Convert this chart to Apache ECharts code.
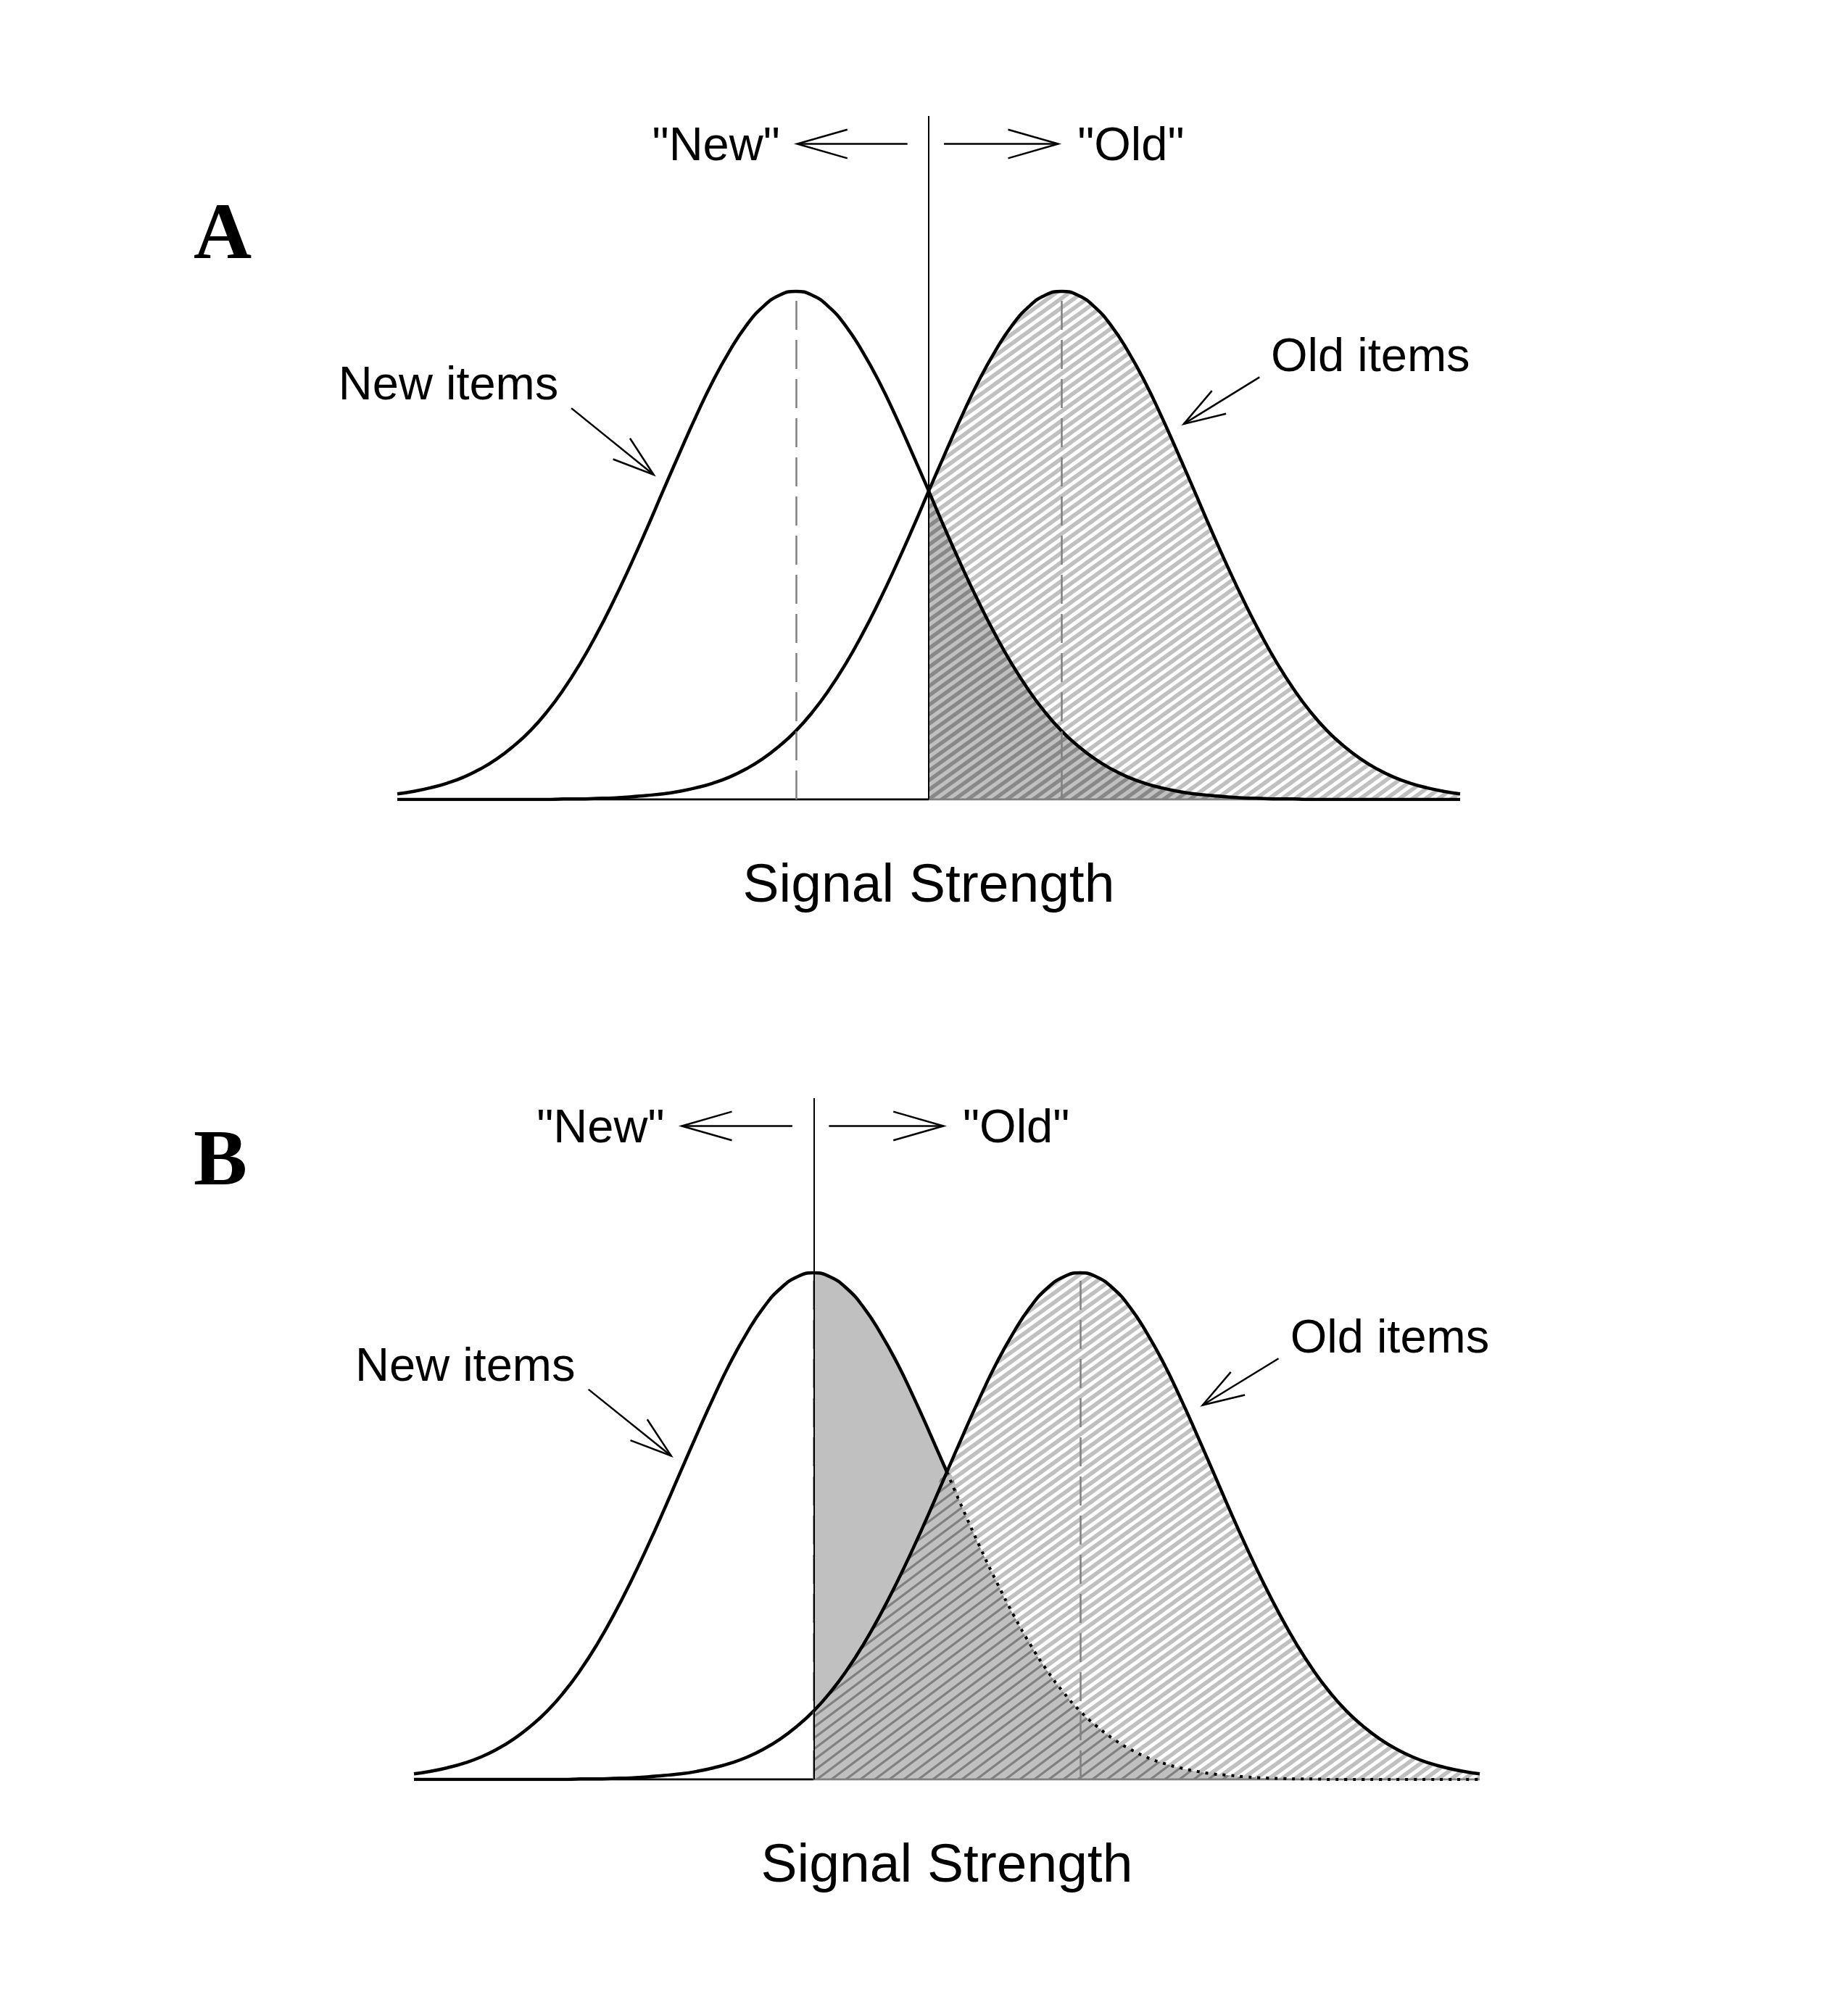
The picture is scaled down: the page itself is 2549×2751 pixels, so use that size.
<!DOCTYPE html>
<html>
<head>
<meta charset="utf-8">
<script src="https://cdn.jsdelivr.net/npm/echarts@6/dist/echarts.min.js"></script>
<style>
  html, body { margin: 0; padding: 0; background: #fff; }
  #eChart { width: 2549px; height: 2751px; }
</style>
</head>
<body>
<div id="eChart"></div>
<script>
// signal strength (in SD units of the new-item distribution)
var xs = [-3, -2.875, -2.75, -2.625, -2.5, -2.375, -2.25, -2.125,
          -2, -1.875, -1.75, -1.625, -1.5, -1.375, -1.25, -1.125,
          -1, -0.875, -0.75, -0.625, -0.5, -0.375, -0.25, -0.125,
          0, 0.125, 0.25, 0.375, 0.5, 0.625, 0.75, 0.875,
          1, 1.125, 1.25, 1.375, 1.5, 1.625, 1.75, 1.875,
          2, 2.125, 2.25, 2.375, 2.5, 2.625, 2.75, 2.875,
          3, 3.125, 3.25, 3.375, 3.5, 3.625, 3.75, 3.875,
          4, 4.125, 4.25, 4.375, 4.5, 4.625, 4.75, 4.875, 5];

// relative height of each distribution (peak = 1)
var newItems = [0.011, 0.016, 0.023, 0.032, 0.044, 0.060, 0.080, 0.105,
                0.135, 0.172, 0.216, 0.267, 0.325, 0.389, 0.458, 0.531,
                0.607, 0.682, 0.755, 0.823, 0.882, 0.932, 0.969, 0.992,
                1.000, 0.992, 0.969, 0.932, 0.882, 0.823, 0.755, 0.682,
                0.607, 0.531, 0.458, 0.389, 0.325, 0.267, 0.216, 0.172,
                0.135, 0.105, 0.080, 0.060, 0.044, 0.032, 0.023, 0.016,
                0.011, 0.008, 0.005, 0.003, 0.002, 0.001, 0.001, 0,
                0, 0, 0, 0, 0, 0, 0, 0, 0];
var oldItems = [0, 0, 0, 0, 0, 0, 0, 0,
                0, 0, 0.001, 0.001, 0.002, 0.003, 0.005, 0.008,
                0.011, 0.016, 0.023, 0.032, 0.044, 0.060, 0.080, 0.105,
                0.135, 0.172, 0.216, 0.267, 0.325, 0.389, 0.458, 0.531,
                0.607, 0.682, 0.755, 0.823, 0.882, 0.932, 0.969, 0.992,
                1.000, 0.992, 0.969, 0.932, 0.882, 0.823, 0.755, 0.682,
                0.607, 0.531, 0.458, 0.389, 0.325, 0.267, 0.216, 0.172,
                0.135, 0.105, 0.080, 0.060, 0.044, 0.032, 0.023, 0.016, 0.011];

var newMean = 0;
var oldMean = 2;
var crossing = 1;
var criteria = [1, 0];          // panel A, panel B
var panelLetters = ['A', 'B'];
var axisTitle = 'Signal Strength';

var yTop = 1.345;

var grids = [
  { left: 548, width: 1466, top: 160, height: 943 },
  { left: 571, width: 1470, top: 1515, height: 940 }
];
var letterPos = [[267, 327], [267, 1605]];
var FONT = '"Liberation Sans", Arial, sans-serif';

function pairs(ys, fromX, toX) {
  var out = [];
  for (var i = 0; i < xs.length; i++) {
    if (xs[i] >= fromX && xs[i] <= toX) out.push([xs[i], ys[i]]);
  }
  return out;
}

// diagonal stripe tile, rising to the right
function makeStripes(w, h, bg, fg, lw) {
  var c = document.createElement('canvas');
  c.width = w;
  c.height = h;
  var ctx = c.getContext('2d');
  ctx.fillStyle = bg;
  ctx.fillRect(0, 0, w, h);
  ctx.strokeStyle = fg;
  ctx.lineWidth = lw;
  ctx.beginPath();
  for (var k = -1; k <= 1; k++) {
    ctx.moveTo(-w, 2 * h + k * h);
    ctx.lineTo(2 * w, -h + k * h);
  }
  ctx.stroke();
  return { image: c, repeat: 'repeat' };
}

function renderArrow(params, api) {
  var p1 = api.coord([api.value(0), api.value(1)]);
  var p2 = api.coord([api.value(2), api.value(3)]);
  var head = api.value(4);
  var spread = api.value(5) * Math.PI / 180;
  var ang = Math.atan2(p2[1] - p1[1], p2[0] - p1[0]);
  var a1 = [p2[0] - head * Math.cos(ang - spread), p2[1] - head * Math.sin(ang - spread)];
  var a2 = [p2[0] - head * Math.cos(ang + spread), p2[1] - head * Math.sin(ang + spread)];
  return {
    type: 'group',
    children: [
      { type: 'line', shape: { x1: p1[0], y1: p1[1], x2: p2[0], y2: p2[1] },
        style: { stroke: '#000', lineWidth: 2.5 } },
      { type: 'polyline', shape: { points: [a1, p2, a2] },
        style: { stroke: '#000', lineWidth: 2.5, fill: null } }
    ]
  };
}

function textRenderer(labels) {
  return function (params, api) {
    var lab = labels[params.dataIndex];
    var p = api.coord([api.value(0), api.value(1)]);
    return {
      type: 'text',
      x: p[0],
      y: p[1],
      style: {
        text: lab.text,
        fontSize: 65,
        fontFamily: FONT,
        fill: '#000',
        align: lab.align,
        verticalAlign: 'middle'
      }
    };
  };
}

function drawChart() {
  var mainChart = echarts.init(document.getElementById('eChart'));
  var lightHatch = makeStripes(18, 13, '#ffffff', '#c0c0c0', 5.5);
  var overlapHatch = [
    makeStripes(18, 13, '#c0c0c0', '#888888', 5.3),
    makeStripes(20, 15, '#c0c0c0', '#808080', 3.2)
  ];
  var peak = Math.max.apply(null, newItems);
  var minItems = newItems.map(function (v, i) { return Math.min(v, oldItems[i]); });
  var xEnd = xs[xs.length - 1];

  var option = {
    animation: false,
    backgroundColor: '#fff',
    grid: [],
    xAxis: [],
    yAxis: [],
    series: [],
    graphic: []
  };

  criteria.forEach(function (crit, g) {
    option.grid.push(grids[g]);
    option.xAxis.push({
      gridIndex: g,
      type: 'value',
      min: xs[0],
      max: xEnd,
      axisLine: { show: false },
      axisTick: { show: false },
      axisLabel: { show: false },
      splitLine: { show: false },
      name: axisTitle,
      nameLocation: 'middle',
      nameGap: 120,
      nameTextStyle: {
        fontSize: 75,
        fontFamily: FONT,
        color: '#000',
        verticalAlign: 'middle'
      }
    });
    option.yAxis.push({
      gridIndex: g,
      type: 'value',
      min: 0,
      max: yTop,
      show: false
    });

    var base = { xAxisIndex: g, yAxisIndex: g, type: 'line', showSymbol: false,
                 symbol: 'none', smooth: true, silent: true };

    // false alarms: new items above the criterion
    option.series.push(Object.assign({}, base, {
      z: 1,
      data: pairs(newItems, crit, xEnd),
      lineStyle: { width: 0 },
      areaStyle: { color: '#c0c0c0', opacity: 1 }
    }));
    // hits: old items above the criterion
    option.series.push(Object.assign({}, base, {
      z: 2,
      data: pairs(oldItems, crit, xEnd),
      lineStyle: { width: 0 },
      areaStyle: { color: lightHatch, opacity: 1 }
    }));
    // where hits and false alarms overlap
    option.series.push(Object.assign({}, base, {
      z: 2,
      data: pairs(minItems, crit, xEnd),
      lineStyle: { width: 0 },
      areaStyle: { color: overlapHatch[g], opacity: 1 }
    }));
    // baseline, guides and criterion
    option.series.push(Object.assign({}, base, {
      z: 3,
      smooth: false,
      data: [[xs[0], 0], [crit, 0]],
      lineStyle: { color: '#000', width: 3 },
      markLine: {
        silent: true,
        symbol: ['none', 'none'],
        label: { show: false },
        data: [
          [{ coord: [newMean, 0], lineStyle: { color: '#808080', width: 2.5, type: [40, 14] } },
           { coord: [newMean, peak] }],
          [{ coord: [oldMean, 0], lineStyle: { color: '#808080', width: 2.5, type: [40, 14] } },
           { coord: [oldMean, peak] }],
          [{ coord: [crit, 0], lineStyle: { color: '#000', width: 2, type: 'solid' } },
           { coord: [crit, yTop] }]
        ]
      }
    }));
    option.series.push(Object.assign({}, base, {
      z: 3,
      smooth: false,
      data: [[crit, 0], [xEnd, 0]],
      lineStyle: { color: '#808080', width: 3 }
    }));

    // distribution curves
    if (crit < crossing) {
      option.series.push(Object.assign({}, base, {
        z: 4,
        data: pairs(newItems, xs[0], crossing),
        lineStyle: { color: '#000', width: 4.5 }
      }));
      option.series.push(Object.assign({}, base, {
        z: 4,
        data: pairs(newItems, crossing, xEnd),
        lineStyle: { color: '#000', width: 4, type: [4, 8] }
      }));
    } else {
      option.series.push(Object.assign({}, base, {
        z: 4,
        data: pairs(newItems, xs[0], xEnd),
        lineStyle: { color: '#000', width: 4.5 }
      }));
    }
    option.series.push(Object.assign({}, base, {
      z: 4,
      data: pairs(oldItems, xs[0], xEnd),
      lineStyle: { color: '#000', width: 4.5 }
    }));

    // arrows
    option.series.push({
      type: 'custom',
      xAxisIndex: g,
      yAxisIndex: g,
      z: 5,
      silent: true,
      renderItem: renderArrow,
      data: [
        [crit - 0.16, 1.29, crit - 0.99, 1.29, 72, 16],
        [crit + 0.115, 1.29, crit + 0.975, 1.29, 72, 16],
        [-1.69, 0.77, -1.07, 0.639, 60, 18],
        [3.49, 0.831, 2.92, 0.739, 60, 18]
      ]
    });

    // labels
    var labels = [
      { text: '"New"', align: 'right' },
      { text: '"Old"', align: 'left' },
      { text: 'New items', align: 'center' },
      { text: 'Old items', align: 'center' }
    ];
    option.series.push({
      type: 'custom',
      xAxisIndex: g,
      yAxisIndex: g,
      z: 5,
      silent: true,
      renderItem: textRenderer(labels),
      data: [
        [crit - 1.12, 1.283],
        [crit + 1.12, 1.283],
        [-2.615, 0.813],
        [4.325, 0.869]
      ]
    });

    option.graphic.push({
      type: 'text',
      x: letterPos[g][0],
      y: letterPos[g][1],
      style: {
        text: panelLetters[g],
        fontSize: 111,
        fontWeight: 'bold',
        fontFamily: '"Liberation Serif", "Times New Roman", serif',
        fill: '#000',
        align: 'left',
        verticalAlign: 'middle'
      }
    });
  });

  mainChart.setOption(option);
}

drawChart();
</script>
</body>
</html>
